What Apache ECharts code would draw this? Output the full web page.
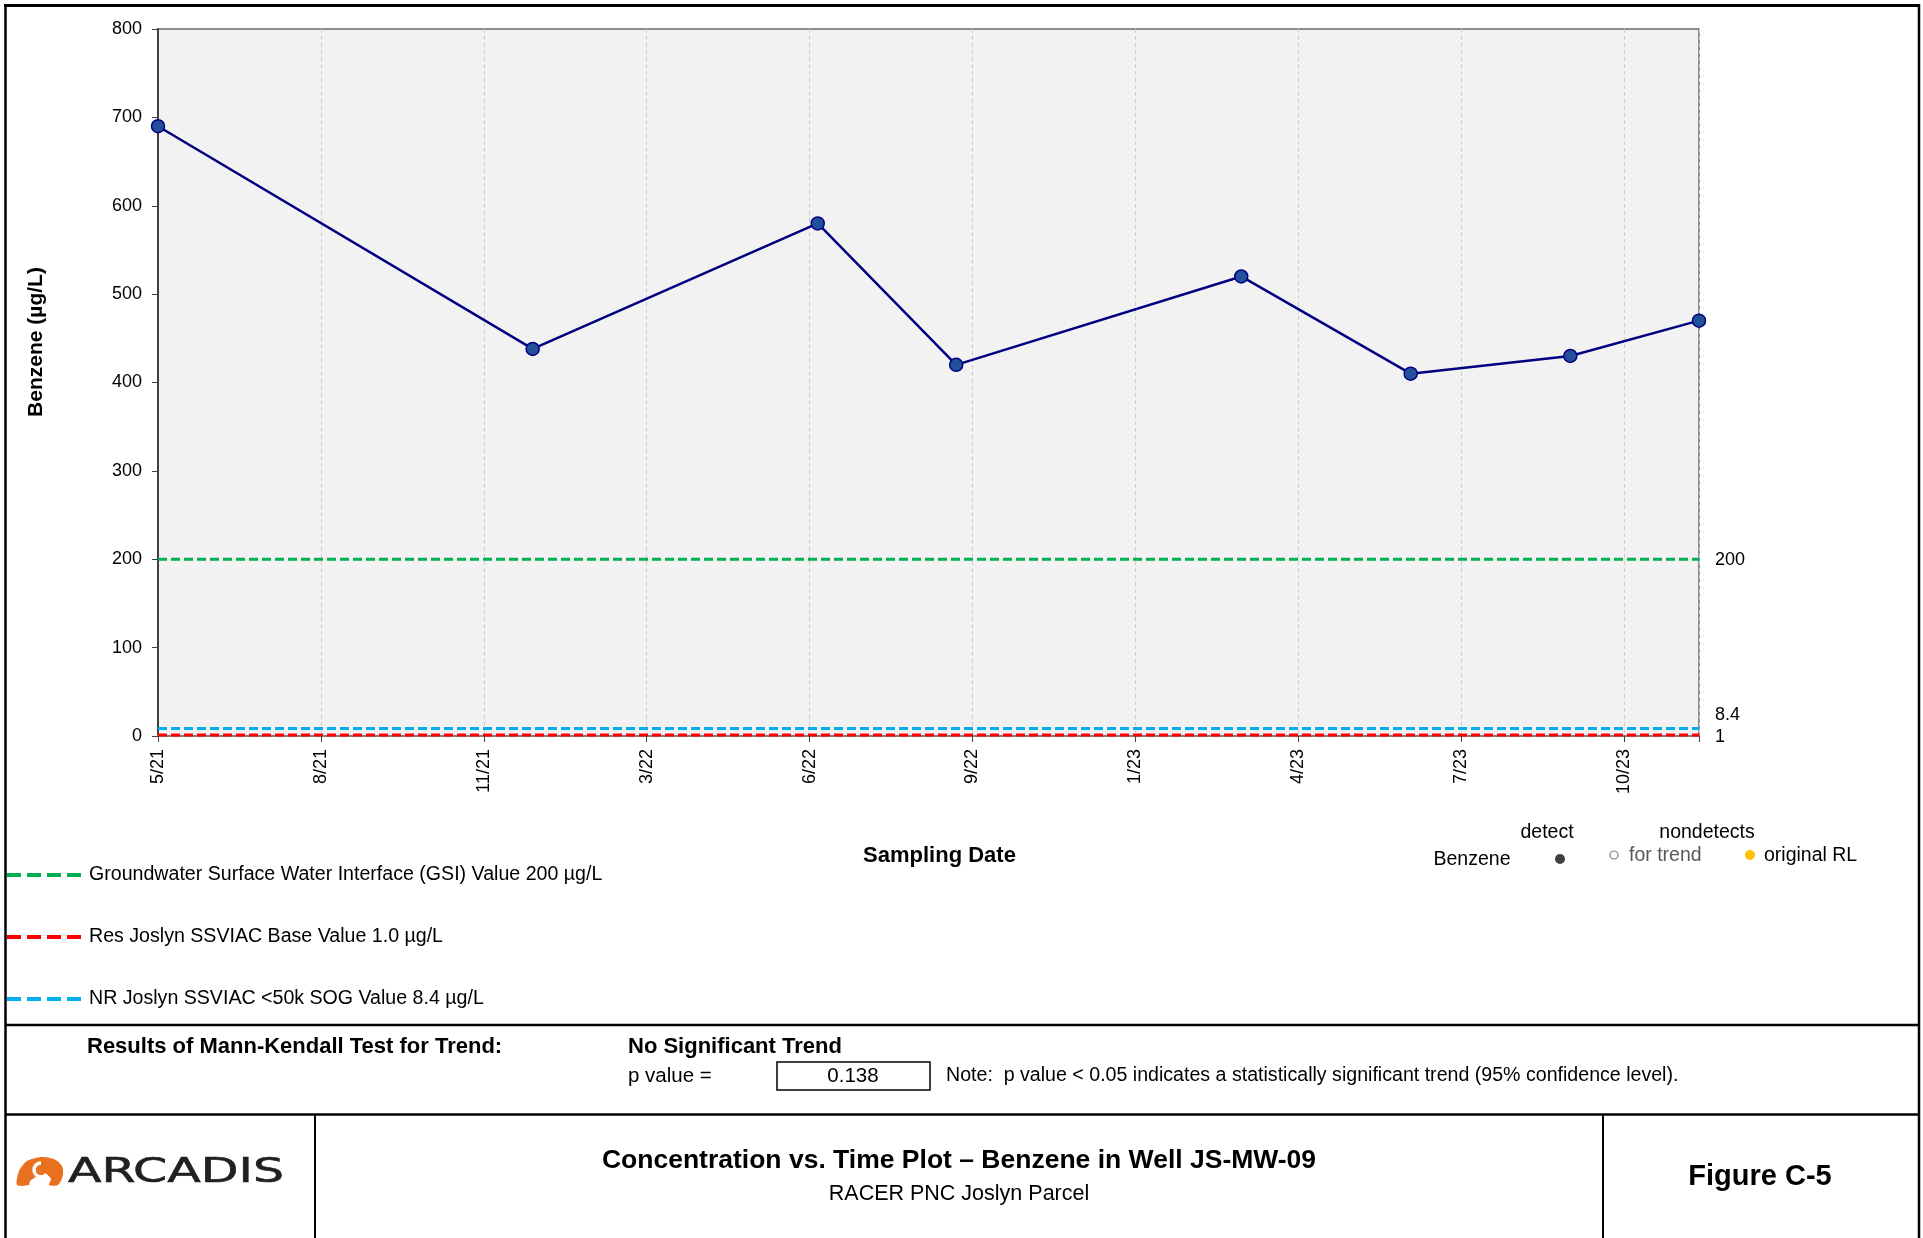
<!DOCTYPE html>
<html>
<head>
<meta charset="utf-8">
<script src="https://cdn.jsdelivr.net/npm/echarts@6/dist/echarts.min.js"></script>
<style>
html,body{margin:0;padding:0;background:#fff;}
#c{width:1923px;height:1238px;}
</style>
</head>
<body>
<div id="c"></div>
<script>
// ---------- data ----------
const sampleDates = ['2021-05-12','2021-12-28','2022-06-21','2022-09-14','2023-03-08','2023-06-20','2023-09-26','2023-12-14'];
const benzene = [690, 438, 580, 420, 520, 410, 430, 470];
const tickLabels = ['5/21','8/21','11/21','3/22','6/22','9/22','1/23','4/23','7/23','10/23'];
const tickDays = 100;
const yMin = 0, yMax = 800, yStep = 100;
const criteriaNames = [
  'Groundwater Surface Water Interface (GSI) Value 200 µg/L',
  'Res Joslyn SSVIAC Base Value 1.0 µg/L',
  'NR Joslyn SSVIAC <50k SOG Value 8.4 µg/L'
];
const criteriaValues = [200, 1, 8.4];
const criteriaLabels = ['200', '1', '8.4'];
const pValue = '0.138';
const trendResult = 'No Significant Trend';

// ---------- styles ----------
const FONT = '"Liberation Sans", Arial, Helvetica, sans-serif';
const criteriaColors = ['#00b050', '#ff0000', '#00b0f0'];
const criteriaLabelDy = [1, 2, -14];

const t0 = Date.parse(sampleDates[0]);
const days = sampleDates.map(d => Math.round((Date.parse(d) - t0) / 86400000));
const firstDay = days[0], lastDay = days[days.length - 1];

const series = [];
criteriaNames.forEach((name, i) => {
  series.push({
    name: name,
    type: 'line',
    data: [[firstDay, criteriaValues[i]], [lastDay, criteriaValues[i]]],
    symbol: 'none',
    silent: true,
    z: 3,
    lineStyle: { color: criteriaColors[i], width: 3, type: [9, 4] },
    itemStyle: { color: criteriaColors[i] },
    endLabel: {
      show: true,
      formatter: criteriaLabels[i],
      color: '#000',
      fontSize: 18,
      fontFamily: FONT,
      distance: 16,
      offset: [0, criteriaLabelDy[i]]
    }
  });
});
series.push({
  name: 'Benzene',
  type: 'line',
  data: days.map((d, i) => [d, benzene[i]]),
  symbol: 'circle',
  symbolSize: 13,
  z: 5,
  lineStyle: { color: '#000080', width: 2.5 },
  itemStyle: { color: '#23509a', borderColor: '#000080', borderWidth: 1.5 }
});

function txt(text, x, y, opt) {
  opt = opt || {};
  const st = {
    text: text,
    fill: opt.fill || '#000',
    fontSize: opt.size || 19,
    fontWeight: opt.weight || 'normal',
    fontFamily: opt.family || FONT,
    align: opt.align || 'left',
    verticalAlign: 'middle'
  };
  if (opt.stroke) { st.stroke = opt.stroke; st.lineWidth = opt.strokeWidth; }
  return {
    type: 'text', x: x, y: y, silent: true,
    rotation: opt.rotation || 0,
    scaleX: opt.scaleX || 1,
    style: st
  };
}
function ln(x1, y1, x2, y2, w) {
  return { type: 'line', silent: true, shape: { x1, y1, x2, y2 }, style: { stroke: '#000', lineWidth: w } };
}

const graphic = [
  // frame
  ln(4, 5.5, 1920, 5.5, 3),
  ln(5.5, 4, 5.5, 1238, 2.5),
  ln(1919, 4, 1919, 1238, 2.5),
  ln(5, 1025, 1919, 1025, 2.5),
  ln(5, 1114.5, 1919, 1114.5, 2.5),
  ln(315, 1114, 315, 1238, 2),
  ln(1603, 1114, 1603, 1238, 2),
  // y axis title
  txt('Benzene (µg/L)', 36, 342, { rotation: Math.PI / 2, size: 21, weight: 'bold', align: 'center' }),
  // right-hand symbol legend
  txt('detect', 1547, 833, { align: 'center', size: 19.5 }),
  txt('nondetects', 1707, 833, { align: 'center', size: 19.5 }),
  txt('Benzene', 1472, 860, { align: 'center', size: 19.5 }),
  { type: 'circle', silent: true, shape: { cx: 1560, cy: 859, r: 5 }, style: { fill: '#404040' } },
  { type: 'circle', silent: true, shape: { cx: 1614, cy: 855, r: 4 }, style: { fill: '#fff', stroke: '#7f7f7f', lineWidth: 1.2 } },
  txt('for trend', 1629, 856, { size: 19.5, fill: '#595959' }),
  { type: 'circle', silent: true, shape: { cx: 1750, cy: 855, r: 5 }, style: { fill: '#ffc000' } },
  txt('original RL', 1764, 856, { size: 19.5 }),
  // Mann-Kendall
  txt('Results of Mann-Kendall Test for Trend:', 87, 1047, { size: 22, weight: 'bold' }),
  txt(trendResult, 628, 1047, { size: 22, weight: 'bold' }),
  txt('p value =', 628, 1076, { size: 20.5 }),
  { type: 'rect', silent: true, shape: { x: 777, y: 1062, width: 153, height: 28 }, style: { fill: '#fff', stroke: '#000', lineWidth: 1.5 } },
  txt(pValue, 853, 1076, { size: 20.5, align: 'center' }),
  txt('Note:  p value < 0.05 indicates a statistically significant trend (95% confidence level).', 946, 1076, { size: 19.6 }),
  // logo
  { type: 'polygon', silent: true, shape: { points: [[17,1185],[19,1171],[27,1161],[41,1157],[54,1159],[62,1166],[63,1175],[58,1185],[49,1185],[51,1179],[47,1175],[38,1176],[30,1181],[29,1185]], smooth: 0.25 }, style: { fill: '#e8701e' } },
  { type: 'arc', silent: true, shape: { cx: 41, cy: 1170, r: 7, startAngle: Math.PI * 0.2, endAngle: Math.PI * 1.5, clockwise: true }, style: { stroke: '#fff', fill: null, lineWidth: 3.5 } },
  txt('ARCADIS', 68, 1173, { size: 34, family: '"DejaVu Sans", ' + FONT, fill: '#231f20', stroke: '#231f20', strokeWidth: 0.6, scaleX: 1.44 }),
  // title block
  txt('Concentration vs. Time Plot – Benzene in Well JS-MW-09', 959, 1161, { size: 26.5, weight: 'bold', align: 'center' }),
  txt('RACER PNC Joslyn Parcel', 959, 1194, { size: 21.5, align: 'center' }),
  txt('Figure C-5', 1760, 1177, { size: 29, weight: 'bold', align: 'center' })
];

const option = {
  animation: false,
  backgroundColor: '#fff',
  textStyle: { fontFamily: FONT },
  grid: {
    left: 158, right: 224, top: 29, bottom: 502,
    show: true, backgroundColor: '#f2f2f2', borderColor: '#8c8c8c', borderWidth: 2
  },
  legend: {
    data: criteriaNames,
    orient: 'vertical',
    left: 5, top: 865,
    padding: 0,
    itemWidth: 77, itemHeight: 18, itemGap: 42,
    selectedMode: false,
    lineStyle: { width: 4, type: [14, 6] },
    itemStyle: { color: 'rgba(0,0,0,0)', borderWidth: 0, opacity: 0 },
    textStyle: { fontSize: 19.6, color: '#000', fontFamily: FONT }
  },
  xAxis: {
    type: 'value',
    min: 0,
    max: 'dataMax',
    interval: tickDays,
    name: 'Sampling Date',
    nameLocation: 'middle',
    nameGap: 109,
    nameTextStyle: { fontSize: 22, fontWeight: 'bold', color: '#000', fontFamily: FONT, padding: [0, 0, 0, 22] },
    axisLine: { show: true, onZero: false, lineStyle: { color: '#808080', width: 2 } },
    axisTick: { show: true, inside: false, length: 6, lineStyle: { color: '#404040' } },
    axisLabel: {
      rotate: 90, fontSize: 18, color: '#000', fontFamily: FONT, margin: 13,
      hideOverlap: false,
      formatter: v => {
        const k = v / tickDays;
        return Number.isInteger(k) && tickLabels[k] !== undefined ? tickLabels[k] : '';
      }
    },
    splitLine: { show: true, lineStyle: { color: '#cdcdcd', width: 1, type: [4, 3] } }
  },
  yAxis: {
    type: 'value',
    min: yMin, max: yMax, interval: yStep,
    axisLine: { show: true, lineStyle: { color: '#404040', width: 2 } },
    axisTick: { show: true, inside: false, length: 6, lineStyle: { color: '#404040' } },
    axisLabel: { fontSize: 18, color: '#000', fontFamily: FONT, margin: 16 },
    splitLine: { show: false }
  },
  series: series,
  graphic: graphic
};

const chart = echarts.init(document.getElementById('c'), null, { renderer: 'canvas' });
chart.setOption(option);
</script>
</body>
</html>
